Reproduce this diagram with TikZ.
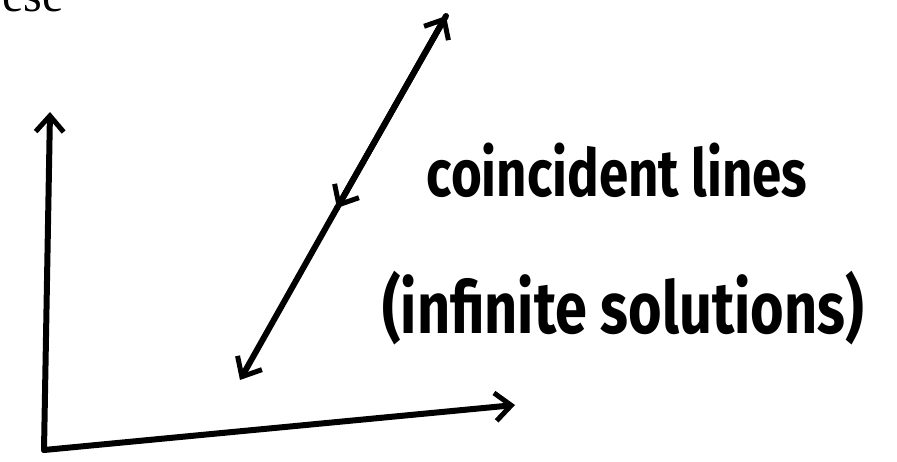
\documentclass[tikz,border=0pt]{standalone}
\usepackage{fontspec}
\setmainfont{Liberation Serif}
\newfontfamily\handfont{Fira Sans}
\usetikzlibrary{arrows.meta}

\tikzset{
  stroke/.style={line width=6pt, line cap=round, line join=round},
  barb/.style={-{Straight Barb[length=16pt,width=28pt,line width=5pt]}},
  handtext/.style={font=\handfont\bfseries\fontsize{66}{72}\selectfont, inner sep=0pt, xscale=0.8}
}

\begin{document}
\begin{tikzpicture}[x=1pt,y=-1pt]
\useasboundingbox (0,0) rectangle (897,461);
\begin{scope}
\clip (0,0) rectangle (897,461);
\node[font=\fontsize{48}{52}\selectfont, inner sep=0pt, anchor=base west] (cut) at (2,11) {ese};
\end{scope}

% axes
\coordinate (O) at (44,450);
\coordinate (ytip) at (50,112);
\coordinate (xtip) at (515,405);
\draw[stroke,barb] (O) -- (ytip);
\draw[stroke,barb] (O) -- (xtip);

% the two lines lying on top of each other
\coordinate (top) at (446,16);
\coordinate (mid) at (337,208);
\coordinate (bot) at (240,380);
\draw[stroke,barb] (mid) -- (top);
\draw[stroke,barb] (top) -- (mid);
\draw[stroke,barb] (mid) -- (bot);

\node[handtext] (coinc) at (617,170) {coincident lines};
\node[handtext, xscale=1.09, yscale=1.1] (infin) at (623,308) {(infinite solutions)};
\end{tikzpicture}
\end{document}
